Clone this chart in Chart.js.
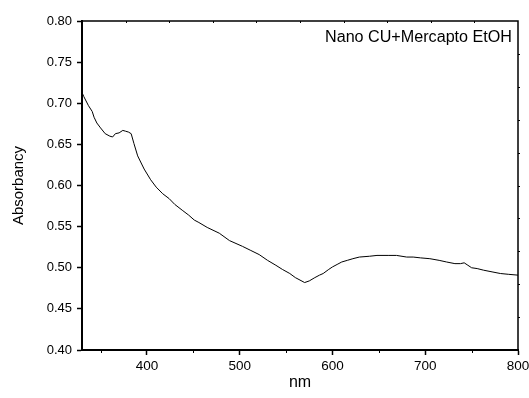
<!DOCTYPE html>
<html>
<head>
<meta charset="utf-8">
<script src="https://cdn.jsdelivr.net/npm/chart.js@4"></script>
<style>
  html, body { margin: 0; padding: 0; background: #fff; }
  #wrap { width: 529px; height: 398px; }
</style>
</head>
<body>
<div id="wrap"><canvas id="c" width="529" height="398"></canvas></div>
<script>
// spectrum
const wavelengths = [
  330, 332, 337, 341, 343, 346, 350, 355, 360, 363, 366, 370, 374, 377, 380, 383,
  386, 390, 397, 404, 410, 417, 424, 430, 438, 445, 451, 456, 465, 478, 489, 503,
  512, 521, 530, 539, 546, 554, 560, 565, 570, 575, 581, 586, 590, 596, 600, 605,
  610, 616, 622, 629, 640, 648, 660, 669, 680, 687, 695, 705, 715, 723, 732, 738,
  742, 746, 750, 756, 763, 772, 781, 790, 800,
];
const absorbance = [
  0.713, 0.708, 0.697, 0.690, 0.683, 0.676, 0.670, 0.663, 0.660, 0.659, 0.663, 0.664, 0.667, 0.666, 0.665, 0.663,
  0.651, 0.636, 0.620, 0.607, 0.598, 0.590, 0.584, 0.577, 0.570, 0.564, 0.558, 0.555, 0.549, 0.542, 0.533, 0.526,
  0.521, 0.516, 0.509, 0.503, 0.498, 0.493, 0.488, 0.485, 0.482, 0.484, 0.488, 0.491, 0.493, 0.498, 0.501, 0.504,
  0.507, 0.509, 0.511, 0.513, 0.514, 0.515, 0.515, 0.515, 0.513, 0.513, 0.512, 0.511, 0.509, 0.507, 0.505, 0.505,
  0.506, 0.503, 0.500, 0.499, 0.497, 0.495, 0.493, 0.492, 0.491,
];
const xTicks = [400, 500, 600, 700, 800];
const xMinorTicks = [350, 450, 550, 650, 750];
const seriesLabel = 'Nano CU+Mercapto EtOH';

const FONT = '"Liberation Sans", Arial, sans-serif';

// top/right frame, minor ticks and the in-plot label
const framePlugin = {
  id: 'frame',
  afterDraw(chart) {
    const { ctx, chartArea: a, scales } = chart;
    ctx.save();
    ctx.strokeStyle = '#000';
    ctx.lineWidth = 1.5;
    ctx.beginPath();
    ctx.moveTo(a.left, a.top);
    ctx.lineTo(a.right, a.top);
    ctx.lineTo(a.right, a.bottom);
    ctx.stroke();

    ctx.lineWidth = 1;
    ctx.beginPath();
    for (const v of xMinorTicks) {
      const x = Math.round(scales.x.getPixelForValue(v)) + 0.5;
      ctx.moveTo(x, a.bottom);
      ctx.lineTo(x, a.bottom + 3);
    }
    for (let i = 1; i < 10; i++) {
      const x = Math.round(a.left + (a.right - a.left) * i / 10) + 0.5;
      ctx.moveTo(x, a.top);
      ctx.lineTo(x, a.top + 2);
      const y = Math.round(a.bottom - (a.bottom - a.top) * i / 10) + 0.5;
      ctx.moveTo(a.right, y);
      ctx.lineTo(a.right + 2, y);
    }
    ctx.stroke();

    ctx.fillStyle = '#000';
    ctx.font = '16px ' + FONT;
    ctx.textAlign = 'right';
    ctx.textBaseline = 'middle';
    const w = ctx.measureText(seriesLabel).width;
    const target = 187;
    ctx.translate(512, 38);
    ctx.scale(target / w, 1);
    ctx.fillText(seriesLabel, 0, 0);
    ctx.restore();
  },
};

new Chart(document.getElementById('c'), {
  type: 'line',
  data: {
    datasets: [{
      label: seriesLabel,
      data: wavelengths.map((x, i) => ({ x, y: absorbance[i] })),
      borderColor: '#000',
      borderWidth: 1,
      pointRadius: 0,
      tension: 0,
      fill: false,
    }],
  },
  options: {
    responsive: false,
    animation: false,
    layout: { padding: { left: 0, right: 11, top: 21, bottom: 0 } },
    plugins: {
      legend: { display: false },
      tooltip: { enabled: false },
    },
    scales: {
      x: {
        type: 'linear',
        min: 330,
        max: 800,
        afterBuildTicks: (s) => { s.ticks = xTicks.map(v => ({ value: v })); },
        afterFit: (s) => { s.height = 48; s.paddingRight = 0; s.paddingLeft = 0; },
        ticks: {
          color: '#000',
          font: { family: FONT, size: 13.5 },
          padding: 3,
          maxRotation: 0,
          autoSkip: false,
        },
        grid: {
          drawOnChartArea: false,
          drawTicks: true,
          tickLength: 5,
          tickColor: '#000',
          tickWidth: 1.5,
        },
        border: { color: '#000', width: 2 },
        title: {
          display: true,
          text: 'nm',
          color: '#000',
          font: { family: FONT, size: 16 },
          padding: { top: 0, bottom: 6 },
        },
      },
      y: {
        min: 0.4,
        max: 0.8,
        afterFit: (s) => { s.width = 82; },
        ticks: {
          stepSize: 0.05,
          color: '#000',
          font: { family: FONT, size: 13 },
          padding: 5,
          callback: (v) => Number(v).toFixed(2),
        },
        grid: {
          drawOnChartArea: false,
          drawTicks: true,
          tickLength: 5,
          tickColor: '#000',
          tickWidth: 1.5,
        },
        border: { color: '#000', width: 2 },
        title: {
          display: true,
          text: 'Absorbancy',
          color: '#000',
          font: { family: FONT, size: 15 },
          padding: { top: 10, bottom: 0 },
        },
      },
    },
  },
  plugins: [framePlugin],
});
</script>
</body>
</html>
